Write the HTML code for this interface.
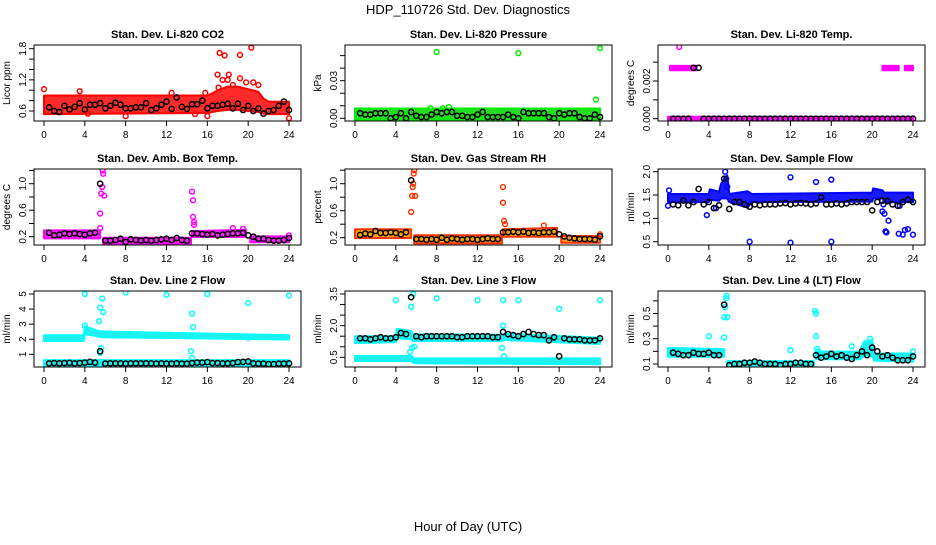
<!DOCTYPE html>
<html><head><meta charset="utf-8">
<style>
html,body{margin:0;padding:0;background:#fff;}
svg text{font-family:"Liberation Sans",Arial,sans-serif;}
</style></head>
<body>
<svg id="chart" width="936" height="540" viewBox="0 0 936 540" xmlns="http://www.w3.org/2000/svg">
<rect width="936" height="540" fill="#fff"/>
<text x="468" y="14" text-anchor="middle" font-size="13">HDP_110726  Std. Dev. Diagnostics</text>
<text x="468" y="531" text-anchor="middle" font-size="13">Hour of Day (UTC)</text>
</svg>
<script>
const xTicks = [0,4,8,12,16,20,24];
const blackHours = [0.5,1,1.5,2,2.5,3,3.5,4,4.5,5,5.5,6,6.5,7,7.5,8,8.5,9,9.5,10,10.5,11,11.5,12,12.5,13,13.5,14,14.5,15,15.5,16,16.5,17,17.5,18,18.5,19,19.5,20,20.5,21,21.5,22,22.5,23,23.5,24];

const co2BandX = [0,16,16.5,17,18,19,20,21,21.5,22,24];
const co2BandLo = [0.56,0.58,0.6,0.62,0.64,0.64,0.62,0.6,0.57,0.56,0.56];
const co2BandHi = [0.88,0.88,0.92,0.98,1.05,1.05,1.0,0.95,0.82,0.76,0.76];
const co2Outliers = [[0,1.02],[3.5,0.98],[17.2,1.72],[17.7,1.67],[19.2,1.68],[20.3,1.82],[17,1.3],[18.1,1.3],[19.2,1.23],[8,0.5],[16,0.5],[24,0.46],[4.3,0.55],[14.8,0.54],[12.5,0.95],[15.8,0.95],[17.5,1.2],[18,1.2],[20.5,1.15],[21,1.1],[19.8,1.15],[17.1,1.05],[18.5,1.1]];
const co2Black = [0.67,0.6,0.58,0.7,0.63,0.68,0.75,0.63,0.72,0.72,0.75,0.65,0.7,0.76,0.72,0.65,0.65,0.67,0.67,0.75,0.62,0.65,0.72,0.78,0.64,0.86,0.68,0.64,0.73,0.73,0.8,0.65,0.7,0.7,0.72,0.74,0.65,0.74,0.62,0.7,0.6,0.65,0.55,0.6,0.62,0.7,0.78,0.62];

const presBandX = [0,24];
const presBandLo = [-0.0005,-0.0005];
const presBandHi = [0.007,0.007];
const presOutliers = [[8,0.053],[16,0.052],[24,0.056],[23.6,0.015],[7.4,0.008],[8.6,0.008],[9.2,0.009]];
const presBlack = [0.004,0.003,0.003,0.004,0.004,0.004,0.0,0.001,0.004,0.0,0.005,0.002,0.001,0.001,0.003,0.005,0.004,0.005,0.005,0.002,0.002,0.001,0.001,0.003,0.005,0.001,0.001,0.001,0.001,0.003,0.001,0.0,0.005,0.004,0.004,0.004,0.004,0.001,0.0,0.004,0.003,0.004,0.004,0.001,0.0,0.0,0.003,0.001];

const tempBandX = [0,24,null,0.2,2.8,null,21,22.6,null,23.2,24];
const tempBandLo = [-0.0001,-0.0001,null,0.00262,0.00262,null,0.00262,0.00262,null,0.00262,0.00262];
const tempBandHi = [0.00005,0.00005,null,0.00275,0.00275,null,0.00275,0.00275,null,0.00275,0.00275];
const tempOutliers = [[1.1,0.0038]];
const tempBlack = [0,0,0,0,0.0027,0.0027,0,0,0,0,0,0,0,0,0,0,0,0,0,0,0,0,0,0,0,0,0,0,0,0,0,0,0,0,0,0,0,0,0,0,0,0,0,0,0,0,0,0];

const ambBandX = [0,5.5,null,5.8,14.4,null,14.5,19.8,null,20.2,24];
const ambBandLo = [0.19,0.19,null,0.11,0.11,null,0.21,0.21,null,0.13,0.13];
const ambBandHi = [0.28,0.28,null,0.17,0.17,null,0.27,0.29,null,0.19,0.19];
const ambOutliers = [[5.5,0.55],[5.6,0.85],[5.7,0.95],[5.8,1.15],[5.75,1.2],[5.9,0.82],[5.5,0.33],[14.5,0.88],[14.6,0.75],[14.6,0.5],[14.7,0.42],[14.7,0.38],[18.5,0.33],[19.5,0.32],[24,0.22]];
const ambBlack = [0.26,0.22,0.23,0.25,0.24,0.25,0.24,0.23,0.25,0.26,1.0,0.14,0.14,0.15,0.17,0.12,0.16,0.15,0.14,0.15,0.14,0.15,0.16,0.17,0.15,0.18,0.15,0.14,0.25,0.25,0.24,0.23,0.24,0.22,0.23,0.24,0.25,0.25,0.26,0.22,0.2,0.17,0.17,0.15,0.14,0.14,0.15,0.18];

const rhBandX = [0,5.5,null,5.8,14.4,null,14.5,19.8,null,20.2,24];
const rhBandLo = [0.21,0.21,null,0.13,0.13,null,0.23,0.23,null,0.14,0.14];
const rhBandHi = [0.31,0.31,null,0.22,0.22,null,0.31,0.33,null,0.21,0.21];
const rhOutliers = [[5.5,0.58],[5.6,0.82],[5.65,0.95],[5.7,1.0],[5.8,1.2],[5.75,1.15],[5.9,0.82],[14.5,0.95],[14.5,0.72],[14.6,0.45],[14.7,0.4],[18.5,0.38],[24,0.25]];
const rhBlack = [0.24,0.26,0.25,0.3,0.27,0.27,0.28,0.27,0.25,0.28,1.05,0.18,0.18,0.17,0.18,0.17,0.2,0.17,0.19,0.18,0.17,0.18,0.18,0.17,0.18,0.19,0.18,0.18,0.28,0.28,0.29,0.28,0.29,0.27,0.28,0.27,0.28,0.28,0.29,0.25,0.22,0.2,0.19,0.18,0.18,0.18,0.17,0.22];

const flowBandX = [0,4,4.1,5,5.2,5.8,6,7.8,8.2,20,20.1,21,21.2,24];
const flowBandLo = [1.37,1.37,1.42,1.4,1.45,1.45,1.37,1.25,1.37,1.38,1.45,1.45,1.37,1.37];
const flowBandHi = [1.5,1.5,1.6,1.55,1.72,1.9,1.5,1.56,1.5,1.53,1.62,1.58,1.53,1.53];
const flowOutliers = [[0,1.27],[0.1,1.6],[3.8,1.07],[5.6,2.0],[5.7,1.85],[5.8,1.68],[8,0.5],[12,0.48],[12,1.88],[16,0.5],[16,1.83],[14.5,1.78],[21,1.15],[21.2,1.1],[21.3,0.72],[21.4,0.7],[21.6,0.95],[22.6,0.67],[23,0.65],[23.2,0.75],[23.5,0.77],[24,0.65],[21.1,1.3],[22.7,1.27],[4.7,1.22]];
const flowBlack = [1.3,1.28,1.38,1.28,1.35,1.63,1.3,1.35,1.22,1.28,1.85,1.2,1.35,1.35,1.3,1.25,1.3,1.28,1.3,1.3,1.3,1.32,1.33,1.3,1.32,1.33,1.32,1.3,1.32,1.45,1.3,1.3,1.32,1.3,1.32,1.35,1.35,1.35,1.35,1.17,1.35,1.38,1.37,1.3,1.27,1.35,1.4,1.35];

const l2BandX = [0,3.9,4,5,5.5,24,null,0,24];
const l2BandLo = [1.95,1.95,2.4,2.3,2.2,2.05,null,0.3,0.3];
const l2BandHi = [2.2,2.2,2.8,2.55,2.45,2.2,null,0.55,0.55];
const l2Outliers = [[4,5.0],[5.7,4.7],[5.5,4.1],[5.8,3.8],[5.4,3.2],[8,5.1],[12,4.95],[16,5.0],[20,4.4],[24,4.9],[14.5,3.7],[14.6,2.8],[14.4,1.2],[5.6,1.4],[5.5,1.1],[4,2.9],[14.5,0.75],[20,2.1]];
const l2Black = [0.4,0.42,0.4,0.42,0.43,0.4,0.42,0.45,0.5,0.45,1.2,0.38,0.4,0.4,0.4,0.38,0.4,0.4,0.4,0.4,0.4,0.38,0.4,0.38,0.38,0.4,0.38,0.38,0.42,0.45,0.45,0.48,0.42,0.42,0.4,0.4,0.42,0.48,0.5,0.52,0.4,0.38,0.38,0.35,0.35,0.38,0.38,0.4];

const l3BandX = [0,4,4.1,5.5,5.7,14.4,14.6,24,null,0,5.5,5.8,24];
const l3BandLo = [1.22,1.27,1.45,1.4,1.32,1.32,1.37,1.18,null,0.37,0.37,0.27,0.22];
const l3BandHi = [1.45,1.45,1.8,1.7,1.55,1.52,1.57,1.38,null,0.52,0.52,0.4,0.4];
const l3Outliers = [[4,3.2],[5.7,3.5],[5.5,2.9],[8,3.3],[12,3.2],[14.5,3.2],[16,3.2],[20,2.8],[24,3.2],[14.5,2.0],[14.4,0.95],[5.4,0.75],[5.6,0.95],[14.6,0.55],[5.8,1.0]];
const l3Black = [1.4,1.4,1.35,1.4,1.45,1.4,1.4,1.45,1.65,1.6,3.35,1.5,1.45,1.5,1.5,1.5,1.5,1.5,1.5,1.45,1.45,1.5,1.5,1.5,1.5,1.5,1.45,1.45,1.7,1.6,1.55,1.5,1.6,1.7,1.6,1.55,1.55,1.3,1.45,0.55,1.4,1.35,1.35,1.35,1.3,1.3,1.3,1.4];

const l4BandX = [0,5.5,null,5.8,14.3,null,14.5,18.8,19.2,20,20.2,24];
const l4BandLo = [0.165,0.165,null,0.08,0.085,null,0.145,0.145,0.17,0.17,0.135,0.125];
const l4BandHi = [0.22,0.21,null,0.115,0.115,null,0.19,0.19,0.27,0.28,0.175,0.175];
const l4Outliers = [[4,0.32],[5.5,0.31],[5.5,0.47],[5.6,0.55],[5.7,0.62],[5.75,0.64],[5.8,0.47],[12,0.21],[14.4,0.52],[14.5,0.5],[14.5,0.32],[14.6,0.22],[14.7,0.2],[18,0.24],[19.8,0.3],[24,0.2]];
const l4Black = [0.19,0.18,0.17,0.17,0.19,0.18,0.18,0.19,0.17,0.17,0.57,0.09,0.1,0.1,0.11,0.11,0.12,0.11,0.1,0.1,0.1,0.09,0.1,0.1,0.11,0.11,0.1,0.1,0.17,0.15,0.16,0.18,0.16,0.17,0.15,0.14,0.17,0.2,0.17,0.23,0.2,0.16,0.17,0.15,0.13,0.13,0.13,0.16];

const NS = "http://www.w3.org/2000/svg";
const svg = document.getElementById('chart');
function mk(tag, attrs, parent){
  const e = document.createElementNS(NS, tag);
  for (const k in attrs) e.setAttribute(k, attrs[k]);
  (parent||svg).appendChild(e);
  return e;
}
const COLS = [34, 345, 658], ROWS = [45, 169, 291], W = 267, H = 76;

const panels = [
 {key:'co2', title:'Stan. Dev. Li-820 CO2', ylab:'Licor ppm', col:0,row:0, y0:0.6,p0:111,y1:1.8,p1:48.7, ticks:[0.6,0.8,1.0,1.2,1.4,1.6,1.8], labels:[0.6,1.2,1.8], dec:1, color:'#ff0000', fill:'#ff2a2a', bx:co2BandX, lo:co2BandLo, hi:co2BandHi, out:co2Outliers, blk:co2Black},
 {key:'pressure', title:'Stan. Dev. Li-820 Pressure', ylab:'kPa', col:1,row:0, y0:0,p0:118.3,y1:0.03,p1:80.7, ticks:[0,0.01,0.02,0.03,0.04,0.05], labels:[0,0.03], dec:2, color:'#00ee00', fill:'#22dd22', bx:presBandX, lo:presBandLo, hi:presBandHi, out:presOutliers, blk:presBlack},
 {key:'temp', title:'Stan. Dev. Li-820 Temp.', ylab:'degrees C', col:2,row:0, y0:0,p0:118.7,y1:0.002,p1:81, ticks:[0,0.001,0.002,0.003], labels:[0,0.002], dec:3, color:'#ff00ff', fill:'#ff00ff', bx:tempBandX, lo:tempBandLo, hi:tempBandHi, out:tempOutliers, blk:tempBlack},
 {key:'ambbox', title:'Stan. Dev. Amb. Box Temp.', ylab:'degrees C', col:0,row:1, y0:0.2,p0:236.7,y1:1.0,p1:183.7, ticks:[0.2,0.4,0.6,0.8,1.0,1.2], labels:[0.2,0.6,1.0], dec:1, color:'#ff00ff', fill:'#ff22ff', bx:ambBandX, lo:ambBandLo, hi:ambBandHi, out:ambOutliers, blk:ambBlack},
 {key:'rh', title:'Stan. Dev. Gas Stream RH', ylab:'percent', col:1,row:1, y0:0.2,p0:237.7,y1:1.0,p1:183.7, ticks:[0.2,0.4,0.6,0.8,1.0,1.2], labels:[0.2,0.6,1.0], dec:1, color:'#ff3300', fill:'#ffa500', bx:rhBandX, lo:rhBandLo, hi:rhBandHi, out:rhOutliers, blk:rhBlack},
 {key:'sampleflow', title:'Stan. Dev. Sample Flow', ylab:'ml/min', col:2,row:1, y0:0.5,p0:241.7,y1:2.0,p1:171.7, ticks:[0.5,1.0,1.5,2.0], labels:[0.5,1.0,1.5,2.0], dec:1, color:'#0000ff', fill:'#1a1aff', bx:flowBandX, lo:flowBandLo, hi:flowBandHi, out:flowOutliers, blk:flowBlack},
 {key:'line2', title:'Stan. Dev. Line 2 Flow', ylab:'ml/min', col:0,row:2, y0:1,p0:354.3,y1:5,p1:294, ticks:[1,2,3,4,5], labels:[1,2,3,4,5], dec:0, color:'#00ffff', fill:'#22eeee', bx:l2BandX, lo:l2BandLo, hi:l2BandHi, out:l2Outliers, blk:l2Black},
 {key:'line3', title:'Stan. Dev. Line 3 Flow', ylab:'ml/min', col:1,row:2, y0:0.5,p0:357.3,y1:3.5,p1:294, ticks:[0.5,1.0,1.5,2.0,2.5,3.0,3.5], labels:[0.5,2.0,3.5], dec:1, color:'#00ffff', fill:'#22eeee', bx:l3BandX, lo:l3BandLo, hi:l3BandHi, out:l3Outliers, blk:l3Black},
 {key:'line4', title:'Stan. Dev. Line 4 (LT) Flow', ylab:'ml/min', col:2,row:2, y0:0.1,p0:364,y1:0.5,p1:313.5, ticks:[0.1,0.2,0.3,0.4,0.5,0.6], labels:[0.1,0.3,0.5], dec:1, color:'#00ffff', fill:'#22eeee', bx:l4BandX, lo:l4BandLo, hi:l4BandHi, out:l4Outliers, blk:l4Black}
];

panels.forEach(p => {
  const L = COLS[p.col], T = ROWS[p.row];
  const xs = h => L + 10 + h * (245 / 24);
  const ys = v => p.p0 + (v - p.y0) * (p.p1 - p.p0) / (p.y1 - p.y0);
  const g = mk('g', {});
  
  
  const clipId = 'clip-' + p.key;
  const cp = mk('clipPath', {id: clipId}, g);
  mk('rect', {x: L, y: T, width: W, height: H}, cp);

  const t = mk('text', {x: L + W/2, y: T - 7, 'text-anchor': 'middle', 'font-size': 11, 'font-weight': 'bold'}, g);
  
  
  t.textContent = p.title;

  const yl = mk('text', {x: 0, y: 0, 'text-anchor': 'middle', 'font-size': 10, transform: `translate(${L - 24},${T + H/2}) rotate(-90)`}, g);
  
  
  yl.textContent = p.ylab;

  const data = mk('g', {'clip-path': `url(#${clipId})`}, g);
  
  

  let seg = [];
  const segs = [];
  for (let i = 0; i < p.bx.length; i++) {
    if (p.bx[i] === null) { if (seg.length) segs.push(seg); seg = []; }
    else seg.push(i);
  }
  if (seg.length) segs.push(seg);
  const pad = 1;
  segs.forEach(s => {
    const top = s.map(i => `${xs(p.bx[i]).toFixed(1)},${(ys(p.hi[i]) - pad).toFixed(1)}`);
    const bot = s.slice().reverse().map(i => `${xs(p.bx[i]).toFixed(1)},${(ys(p.lo[i]) + pad).toFixed(1)}`);
    const poly = mk('polygon', {points: top.concat(bot).join(' '), fill: p.fill, stroke: p.color, 'stroke-width': 2, 'stroke-linejoin': 'round'}, data);
    
    
  });
  p.out.forEach(o => {
    const c = mk('circle', {cx: xs(o[0]), cy: ys(o[1]), r: 2.4, fill: 'none', stroke: p.color, 'stroke-width': 1.5}, data);
    
    
  });
  blackHours.forEach((h, i) => {
    const c = mk('circle', {cx: xs(h), cy: ys(p.blk[i]), r: 2.6, fill: 'none', stroke: '#000', 'stroke-width': 1.5}, data);
    
    
  });

  const box = mk('rect', {x: L, y: T, width: W, height: H, fill: 'none', stroke: '#000', 'stroke-width': 1}, g);
  
  

  xTicks.forEach(v => {
    const x = xs(v);
    const tk = mk('line', {x1: x, x2: x, y1: T + H, y2: T + H + 5, stroke: '#000'}, g);
    
    
    const tl = mk('text', {x: x, y: T + H + 17, 'text-anchor': 'middle', 'font-size': 10}, g);
    
    
    tl.textContent = v;
  });
  p.ticks.forEach(v => {
    const y = ys(v);
    const tk = mk('line', {x1: L - 5, x2: L, y1: y, y2: y, stroke: '#000'}, g);
    
    
  });
  p.labels.forEach(v => {
    const y = ys(v);
    const tl = mk('text', {x: 0, y: 0, 'text-anchor': 'middle', 'font-size': 10, transform: `translate(${L - 8},${y}) rotate(-90)`}, g);
    
    
    tl.textContent = v.toFixed(p.dec);
  });
});
</script>
</body></html>
